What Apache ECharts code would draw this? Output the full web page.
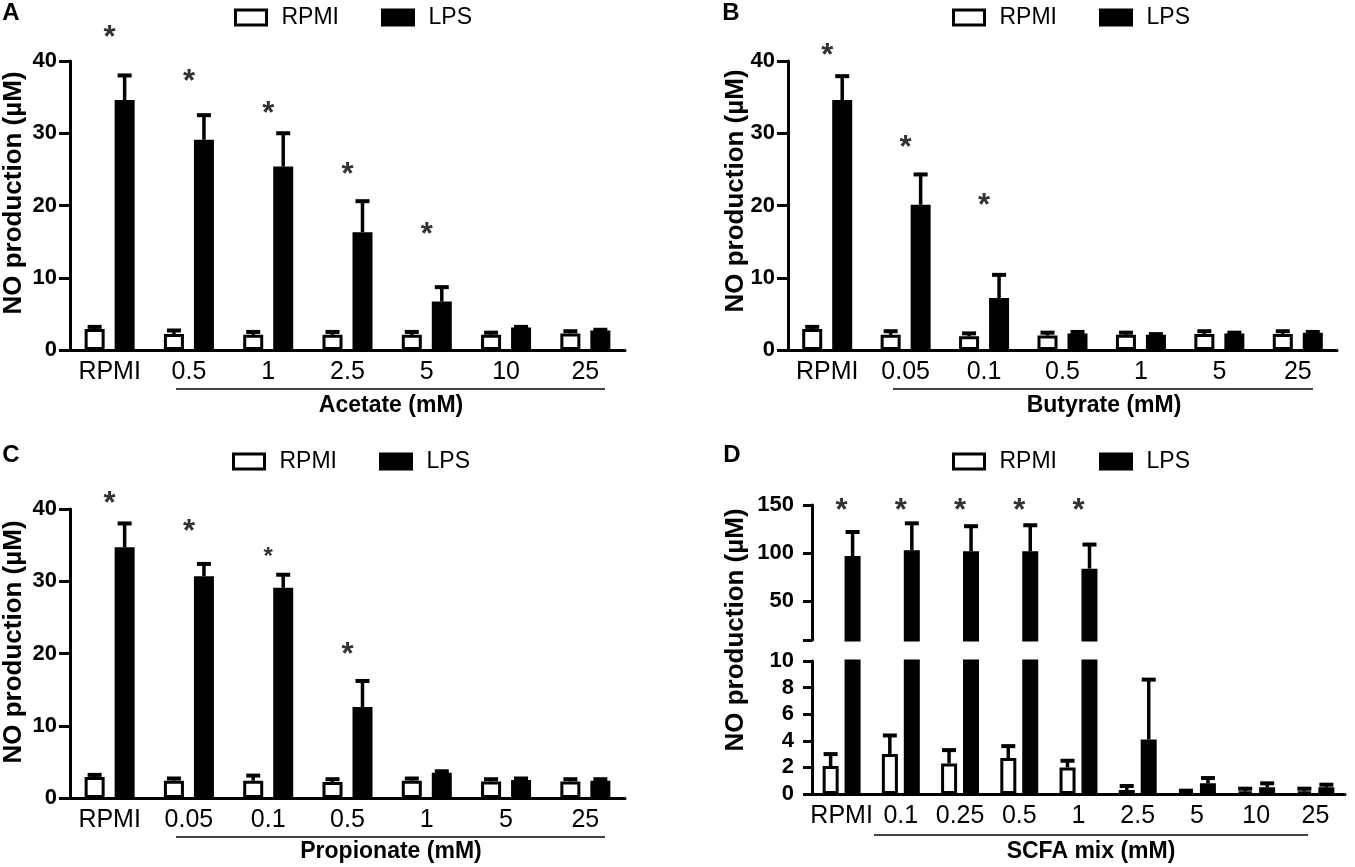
<!DOCTYPE html>
<html>
<head>
<meta charset="utf-8">
<title>NO production</title>
<script src="https://cdn.jsdelivr.net/npm/echarts@6/dist/echarts.min.js"></script>
<style>
  html, body { margin: 0; padding: 0; background: #fff; }
  #chart { width: 1355px; height: 867px; }
</style>
</head>
<body>
<div id="chart"></div>
<script>
// ---------------------------------------------------------------------------
// Data
// ---------------------------------------------------------------------------
var catsA = ['RPMI', '0.5', '1', '2.5', '5', '10', '25'];
var rpmiA = [2.9, 2.2, 2.1, 2.1, 2.1, 2.1, 2.3];
var rpmiErrA = [0.3, 0.5, 0.4, 0.4, 0.4, 0.3, 0.3];
var lpsA = [34.6, 29.1, 25.4, 16.3, 6.7, 3.1, 2.7];
var lpsErrA = [3.4, 3.4, 4.6, 4.3, 2.0, 0.1, 0.1];
var starsA = [44.1, 38.0, 33.6, 25.2, 16.9, null, null];

var catsB = ['RPMI', '0.05', '0.1', '0.5', '1', '5', '25'];
var rpmiB = [2.9, 2.1, 1.9, 2.0, 2.1, 2.2, 2.2];
var rpmiErrB = [0.3, 0.5, 0.4, 0.4, 0.3, 0.4, 0.4];
var lpsB = [34.6, 20.1, 7.2, 2.3, 2.1, 2.3, 2.4];
var lpsErrB = [3.3, 4.2, 3.2, 0.2, 0.1, 0.1, 0.1];
var starsB = [41.6, 28.9, 20.9, null, null, null, null];

var catsC = ['RPMI', '0.05', '0.1', '0.5', '1', '5', '25'];
var rpmiC = [2.9, 2.4, 2.4, 2.2, 2.4, 2.3, 2.3];
var rpmiErrC = [0.3, 0.3, 0.7, 0.4, 0.3, 0.3, 0.3];
var lpsC = [34.7, 30.7, 29.1, 12.6, 3.5, 2.5, 2.4];
var lpsErrC = [3.3, 1.7, 1.8, 3.6, 0.2, 0.2, 0.2];
var starsC = [41.7, 37.8, 34.1, 20.7, null, null, null];

var catsD = ['RPMI', '0.1', '0.25', '0.5', '1', '2.5', '5', '10', '25'];
var rpmiD = [2.1, 3.0, 2.3, 2.7, 2.0, 0.3, 0.15, 0.2, 0.2];
var rpmiErrD = [0.9, 1.4, 1.0, 0.9, 0.5, 0.3, 0.1, 0.2, 0.2];
var lpsD = [97, 103, 102, 102, 84, 4.1, 0.8, 0.5, 0.5];
var lpsErrD = [25, 28, 26, 27, 25, 4.5, 0.4, 0.3, 0.2];
var starsD = [151, 151, 151, 151, 151, null, null, null, null];

// y axis ticks
var ticksABC = { min: 0, max: 40, interval: 10 };
var ticksDLow = { min: 0, max: 10, interval: 2 };
var ticksDHighTicks = [10, 50, 100, 150];
var ticksDHighLabels = [50, 100, 150];

// ---------------------------------------------------------------------------
// Helpers
// ---------------------------------------------------------------------------
var FONT = 'Liberation Sans, Arial, Helvetica, sans-serif';
var grid = [], xAxis = [], yAxis = [], series = [], legend = [], graphic = [];

function addGrid(box, cats, yOpt, showX) {
    grid.push(box);
    var gi = grid.length - 1;
    xAxis.push({
        type: 'category', gridIndex: gi, data: cats, show: showX,
        axisLine: { lineStyle: { color: '#000', width: 3 } },
        axisTick: { alignWithLabel: true, length: 8, lineStyle: { color: '#000', width: 3 } },
        axisLabel: { color: '#000', fontSize: 25, fontFamily: FONT, margin: 10, interval: 0, hideOverlap: false }
    });
    var y = {
        type: 'value', gridIndex: gi,
        splitLine: { show: false },
        axisLine: { show: true, lineStyle: { color: '#000', width: 3 } },
        axisTick: { show: true, length: yOpt.tickLen || 11, lineStyle: { color: '#000', width: 3 } },
        axisLabel: { color: '#000', fontSize: 22, fontWeight: 'bold', fontFamily: FONT, margin: yOpt.margin || 13 }
    };
    y.min = yOpt.min; y.max = yOpt.max;
    if (yOpt.tickValues) {
        y.axisTick.customValues = yOpt.tickValues;
        y.axisLabel.customValues = yOpt.labelValues;
    } else {
        y.interval = yOpt.interval;
    }
    yAxis.push(y);
    return gi;
}

function addBars(gi, rpmi, lps, barWidth, barGap) {
    series.push({
        type: 'bar', name: 'RPMI', xAxisIndex: gi, yAxisIndex: gi, data: rpmi,
        barWidth: barWidth, barGap: barGap, silent: true,
        itemStyle: { color: '#fff', borderColor: '#000', borderWidth: 3 }
    });
    series.push({
        type: 'bar', name: 'LPS', xAxisIndex: gi, yAxisIndex: gi, data: lps,
        barWidth: barWidth, barGap: barGap, silent: true,
        itemStyle: { color: '#000', borderColor: '#000', borderWidth: 3 }
    });
}

// upper error whisker with a cap; offset moves it onto its bar in the group
function addErrors(gi, means, errs, offset, lo, hi) {
    series.push({
        type: 'custom', xAxisIndex: gi, yAxisIndex: gi, silent: true,
        data: means.map(function (m, i) { return [i, m, errs[i]]; }),
        renderItem: function (params, api) {
            var i = api.value(0), m = api.value(1), e = api.value(2);
            if (m < lo || m > hi) return null;
            var b = api.coord([i, m]);
            var t = api.coord([i, m + e]);
            var x = b[0] + offset;
            return {
                type: 'group',
                children: [
                    { type: 'line', shape: { x1: x, y1: b[1], x2: x, y2: t[1] }, style: { stroke: '#000', lineWidth: 3.5 } },
                    { type: 'line', shape: { x1: x - 7, y1: t[1], x2: x + 7, y2: t[1] }, style: { stroke: '#000', lineWidth: 4 } }
                ]
            };
        }
    });
}

function addStars(gi, stars, sizes) {
    var data = [];
    stars.forEach(function (v, i) { if (v != null) data.push([i, v, sizes ? sizes[i] : 31]); });
    series.push({
        type: 'custom', xAxisIndex: gi, yAxisIndex: gi, silent: true, clip: false,
        data: data,
        renderItem: function (params, api) {
            var p = api.coord([api.value(0), api.value(1)]);
            var fs = api.value(2);
            return {
                type: 'text', x: p[0], y: p[1] + fs * 0.24,
                style: { text: '*', fontSize: fs, fontWeight: 'bold', fontFamily: FONT, fill: '#333', align: 'center', verticalAlign: 'middle' }
            };
        }
    });
}

function addLegend(left, top) {
    legend.push({
        left: left, top: top, icon: 'rect', itemWidth: 31, itemHeight: 15, itemGap: 42,
        selectedMode: false,
        textStyle: { fontSize: 23, fontFamily: FONT, color: '#000', padding: [0, 0, 0, 10] },
        data: [
            { name: 'RPMI', itemStyle: { color: '#fff', borderColor: '#000', borderWidth: 3 } },
            { name: 'LPS', itemStyle: { color: '#000', borderColor: '#000', borderWidth: 3 } }
        ]
    });
}

function addText(x, y, text, size, rot) {
    graphic.push({
        type: 'text', x: x, y: y, rotation: rot || 0, silent: true,
        style: { text: text, fontSize: size, fontWeight: 'bold', fontFamily: FONT, fill: '#000', align: 'center', verticalAlign: 'middle' }
    });
}

function addUnderline(x1, x2, y) {
    graphic.push({
        type: 'line', silent: true,
        shape: { x1: x1, y1: y, x2: x2, y2: y },
        style: { stroke: '#444', lineWidth: 2 }
    });
}

// ---------------------------------------------------------------------------
// Panels
// ---------------------------------------------------------------------------
// A - Acetate
var gA = addGrid({ left: 70, top: 61, width: 555, height: 289 }, catsA, ticksABC, true);
addBars(gA, rpmiA, lpsA, 20, '50%');
addErrors(gA, rpmiA, rpmiErrA, -15, 0, 40);
addErrors(gA, lpsA, lpsErrA, 15, 0, 40);
addStars(gA, starsA);
addLegend(229, 1);

// B - Butyrate
var gB = addGrid({ left: 788, top: 61, width: 549, height: 289 }, catsB, ticksABC, true);
addBars(gB, rpmiB, lpsB, 20, '50%');
addErrors(gB, rpmiB, rpmiErrB, -15, 0, 40);
addErrors(gB, lpsB, lpsErrB, 15, 0, 40);
addStars(gB, starsB);
addLegend(947, 1);

// C - Propionate
var gC = addGrid({ left: 70, top: 509, width: 555, height: 289 }, catsC, ticksABC, true);
addBars(gC, rpmiC, lpsC, 20, '50%');
addErrors(gC, rpmiC, rpmiErrC, -15, 0, 40);
addErrors(gC, lpsC, lpsErrC, 15, 0, 40);
addStars(gC, starsC, [31, 31, 24, 31]);
addLegend(227, 445);

// D - SCFA mix, broken y axis (lower 0-10, upper 10-150)
var gD = addGrid({ left: 812, top: 661, width: 533, height: 133 }, catsD,
    { min: ticksDLow.min, max: ticksDLow.max, interval: ticksDLow.interval, margin: 18, tickLen: 9 }, true);
addBars(gD, rpmiD, lpsD, 16, '37%');
addErrors(gD, rpmiD, rpmiErrD, -11, 0, 10);
addErrors(gD, lpsD, lpsErrD, 11, 0, 10);

var gD2 = addGrid({ left: 812, top: 505, width: 533, height: 135 }, catsD,
    { min: 10, max: 150, tickValues: ticksDHighTicks, labelValues: ticksDHighLabels, margin: 18, tickLen: 9 }, false);
addBars(gD2, rpmiD, lpsD, 16, '37%');
addErrors(gD2, rpmiD, rpmiErrD, -11, 10, 150);
addErrors(gD2, lpsD, lpsErrD, 11, 10, 150);
addStars(gD2, starsD);
addLegend(947, 445);

// titles, panel letters, group underlines
addText(11, 13, 'A', 24);
addText(731, 13, 'B', 24);
addText(11, 455, 'C', 24);
addText(732, 455, 'D', 24);

addText(14, 193, 'NO production (µM)', 26, Math.PI / 2);
addText(736, 191, 'NO production (µM)', 26, Math.PI / 2);
addText(14, 642, 'NO production (µM)', 26, Math.PI / 2);
addText(736, 630, 'NO production (µM)', 26, Math.PI / 2);

addUnderline(176, 605, 389);
addText(391, 406, 'Acetate (mM)', 23);
addUnderline(893, 1313, 389);
addText(1104, 406, 'Butyrate (mM)', 23);
addUnderline(176, 605, 837);
addText(391, 852, 'Propionate (mM)', 23);
addUnderline(874, 1308, 835);
addText(1091, 852, 'SCFA mix (mM)', 23);

var myChart = echarts.init(document.getElementById('chart'));
myChart.setOption({
    animation: false,
    backgroundColor: '#fff',
    textStyle: { fontFamily: FONT },
    grid: grid,
    xAxis: xAxis,
    yAxis: yAxis,
    legend: legend,
    graphic: graphic,
    series: series
});
</script>
</body>
</html>
